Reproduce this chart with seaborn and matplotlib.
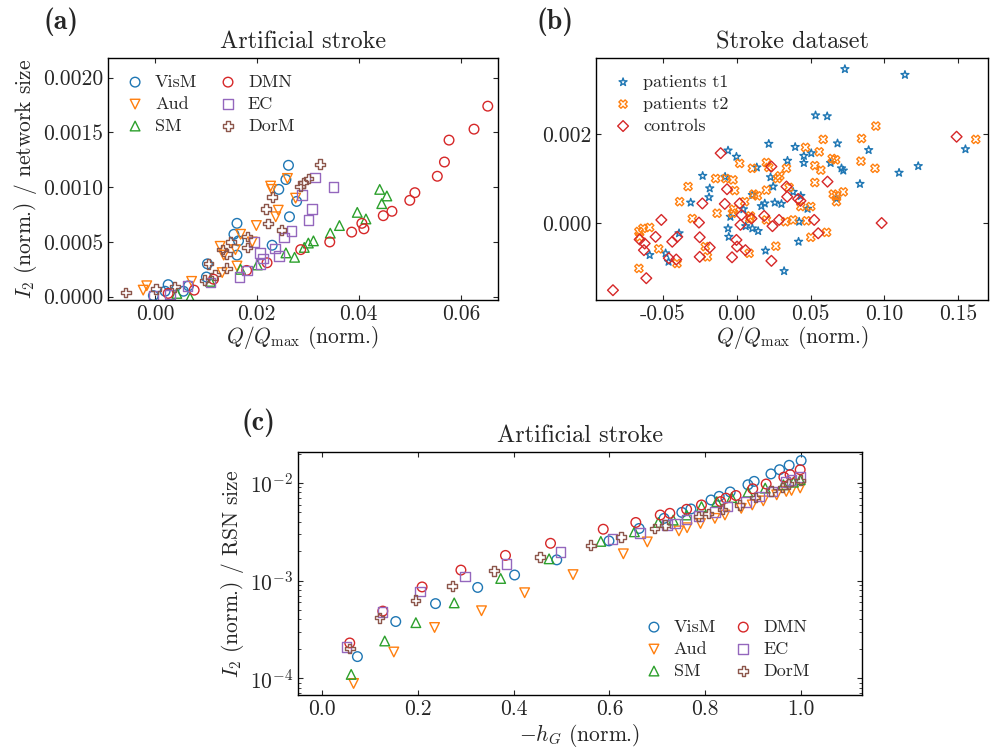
import numpy as np
import pandas as pd
import seaborn as sns
import matplotlib.pyplot as plt
from matplotlib.ticker import MultipleLocator, FormatStrFormatter

# ---- panel (a): artificial stroke, Q/Qmax vs I2 / network size ----
a_vism_x = [0.0026, 0.0020, 0.0056, 0.0066, 0.0101, 0.0103, 0.0155, 0.0161, 0.0164, 0.0161,
            0.0230, 0.0243, 0.0257, 0.0262, 0.0264, 0.0278, -0.0003]
a_vism_y = [0.00011, 0.00005, 0.00005, 0.00010, 0.00018, 0.00030, 0.00057, 0.00067, 0.00051, 0.00038,
            0.00047, 0.00098, 0.00107, 0.00120, 0.00073, 0.00087, 0.00001]
a_aud_x = [-0.0023, -0.0016, 0.0072, 0.0132, 0.0128, 0.0135, 0.0158, 0.0161, 0.0168, 0.0191,
           0.0199, 0.0227, 0.0229, 0.0237, 0.0242, 0.0260, 0.0276]
a_aud_y = [0.00006, 0.00010, 0.00014, 0.00022, 0.00046, 0.00038, 0.00043, 0.00028, 0.00057, 0.00050,
           0.00065, 0.00101, 0.00098, 0.00073, 0.00079, 0.00108, 0.00090]
a_sm_x = [0.0069, 0.0043, 0.0109, 0.0168, 0.0201, 0.0257, 0.0274, 0.0293, 0.0301, 0.0311,
          0.0344, 0.0362, 0.0397, 0.0414, 0.0441, 0.0455, 0.0445]
a_sm_y = [-0.00001, 0.00003, 0.00014, 0.00025, 0.00029, 0.00040, 0.00036, 0.00045, 0.00049, 0.00051,
          0.00058, 0.00065, 0.00077, 0.00071, 0.00098, 0.00092, 0.00085]
a_dmn_x = [0.0026, 0.0077, 0.0115, 0.0180, 0.0220, 0.0286, 0.0343, 0.0386, 0.0406, 0.0410,
           0.0448, 0.0465, 0.0500, 0.0510, 0.0554, 0.0568, 0.0577, 0.0626, 0.0653]
a_dmn_y = [0.00003, 0.00006, 0.00016, 0.00024, 0.00031, 0.00043, 0.00050, 0.00059, 0.00067, 0.00062,
           0.00074, 0.00078, 0.00088, 0.00095, 0.00110, 0.00123, 0.00143, 0.00153, 0.00174]
a_ec_x = [-0.0003, 0.0030, 0.0064, 0.0109, 0.0166, 0.0181, 0.0207, 0.0212, 0.0206, 0.0194,
          0.0235, 0.0243, 0.0253, 0.0268, 0.0301, 0.0308, 0.0289, 0.0314, 0.0350]
a_ec_y = [0.00001, 0.00002, 0.00010, 0.00013, 0.00018, 0.00024, 0.00030, 0.00035, 0.00040, 0.00050,
          0.00044, 0.00037, 0.00054, 0.00060, 0.00070, 0.00080, 0.00093, 0.00109, 0.00100]
a_dorm_x = [-0.0057, 0.0002, 0.0039, 0.0097, 0.0105, 0.0118, 0.0141, 0.0132, 0.0141, 0.0149,
            0.0181, 0.0181, 0.0222, 0.0218, 0.0230, 0.0248, 0.0285, 0.0291, 0.0301, 0.0324]
a_dorm_y = [0.00004, 0.00007, 0.00009, 0.00015, 0.00030, 0.00020, 0.00026, 0.00043, 0.00039, 0.00050,
            0.00055, 0.00045, 0.00067, 0.00080, 0.00091, 0.00061, 0.00101, 0.00104, 0.00108, 0.00121]

# ---- panel (b): stroke dataset ----
b_t1_x = [0.0733, 0.114, 0.0534, 0.0613, 0.0217, -0.0059, -0.0002, 0.0396, 0.0455, 0.0505,
          0.0455, 0.0683, 0.0636, 0.071, 0.0722, 0.0894, 0.110, 0.123, 0.0835, 0.155,
          0.0344, 0.0136, -0.0231, -0.0183, -0.0188, -0.0312, -0.0079, 0.0229, 0.0247, 0.0106,
          0.0167, 0.019, 0.0258, 0.0303, 0.0382, 0.0434, 0.0676, 0.048, 0.0423, 0.0045,
          0.0061, 0.0106, 0.0145, -0.0059, -0.0054, -0.0391, -0.0482, -0.0462, -0.059, 0.0195,
          0.0419, 0.0321, -0.0043]
b_t1_y = [0.00346, 0.00333, 0.00242, 0.00240, 0.00178, 0.00163, 0.00149, 0.00171, 0.00151, 0.00157,
          0.00135, 0.00179, 0.00135, 0.00123, 0.00118, 0.00164, 0.00113, 0.00128, 0.00088, 0.00166,
          0.00140, 0.00125, 0.00106, 0.00078, 0.00058, 0.00046, 0.00104, 0.00103, 0.00082, 0.00063,
          0.00038, 0.00044, 0.00046, 0.00043, 0.00070, 0.00061, 0.00055, 0.00032, 0.00003, 0.00031,
          -0.00007, -0.00012, -0.00018, -0.00012, -0.00031, -0.00023, -0.00068, -0.00087, -0.00072, -0.00062,
          -0.00042, -0.00108, 0.00014]
b_t2_x = [-0.0663, -0.0636, -0.059, -0.0658, -0.0663, -0.0529, -0.0405, -0.0387, -0.033, -0.0301,
          -0.0213, -0.0199, -0.0133, -0.0143, -0.0075, -0.0025, -0.0014, -0.0029, -0.002, 0.002,
          0.0106, 0.0054, 0.0093, 0.0115, 0.014, 0.0088, 0.0084, 0.0201, 0.0217, 0.0201,
          0.0201, 0.0265, 0.0276, 0.0292, 0.0337, 0.0355, 0.033, 0.0382, 0.0434, 0.0473,
          0.0466, 0.0529, 0.0529, 0.0502, 0.0502, 0.0559, 0.057, 0.0586, 0.0609, 0.0647,
          0.067, 0.0676, 0.0654, 0.0722, 0.0676, 0.0842, 0.0846, 0.0937, 0.0943, 0.162]
b_t2_y = [-0.00019, -0.00012, -0.00010, -0.00031, -0.00102, -0.00058, -0.00091, 0.00048, 0.00082, 0.00010,
          -0.00053, -0.00076, 0.00022, 0.00100, 0.00100, 0.00097, 0.00073, 0.00022, 0.00031, 0.00134,
          0.00123, 0.00048, 0.00016, 0.00065, 0.00061, 0.00010, -0.00068, 0.00136, 0.00125, 0.00074,
          0.00007, -0.00052, 0.00100, 0.00106, 0.00123, 0.00080, 0.00003, 0.00007, 0.00037, 0.00005,
          0.00170, 0.00129, 0.00091, 0.00037, -0.00032, 0.00160, 0.00119, 0.00188, -0.00021, 0.00145,
          0.00142, 0.00061, 0.00065, 0.00070, 0.00048, 0.00139, 0.00190, 0.00123, 0.00218, 0.00188]
b_ctrl_x = [-0.0839, -0.0613, -0.0658, -0.0624, -0.0629, -0.055, -0.0511, -0.046, -0.0437, -0.041,
            -0.0403, -0.0256, -0.0251, -0.0251, -0.0233, -0.0183, -0.0109, -0.0081, -0.0066, -0.0032,
            -0.0002, 0.0002, 0.002, 0.0032, 0.0025, 0.0059, 0.010, 0.0186, 0.0235, 0.0242,
            0.0235, 0.0287, 0.0337, 0.0342, 0.0416, 0.0432, 0.0525, 0.0552, 0.0615, 0.0982, 0.149]
b_ctrl_y = [-0.00151, -0.00124, -0.00037, -0.00046, -0.00061, -0.00031, 0.00007, -0.00079, -0.00042, -0.00082,
            -0.00031, 0.00001, -0.00032, -0.00076, 0.00044, -0.00055, 0.00157, 0.00043, 0.00076, -0.00077,
            -0.00038, -0.00053, 0.00044, 0.00018, -0.00004, -0.00061, 0.00010, 0.00016, -0.00085, -0.00007,
            0.00127, 0.00007, 0.00082, 0.00059, 0.00054, 0.00050, 0.00007, -0.00023, 0.00093, 0.0, 0.00194]

# ---- panel (c): -h_G vs I2 / RSN size ----
c_vism_x = [0.074, 0.154, 0.237, 0.325, 0.402, 0.490, 0.599, 0.662, 0.714, 0.751,
            0.770, 0.812, 0.829, 0.852, 0.889, 0.902, 0.937, 0.955, 0.975, 1.0]
c_vism_y = [1.66e-4, 3.8e-4, 5.8e-4, 8.5e-4, 1.14e-3, 1.63e-3, 2.55e-3, 3.42e-3, 4.34e-3, 5.0e-3,
            5.42e-3, 6.7e-3, 7.3e-3, 8.1e-3, 9.6e-3, 1.04e-2, 1.24e-2, 1.37e-2, 1.52e-2, 1.70e-2]
c_aud_x = [0.066, 0.150, 0.235, 0.333, 0.423, 0.524, 0.629, 0.679, 0.745, 0.762,
           0.790, 0.820, 0.841, 0.875, 0.898, 0.921, 0.949, 0.969, 0.980, 0.998]
c_aud_y = [8.8e-5, 1.85e-4, 3.3e-4, 4.9e-4, 7.5e-4, 1.15e-3, 1.88e-3, 2.49e-3, 3.23e-3, 3.48e-3,
           3.85e-3, 4.34e-3, 4.7e-3, 5.5e-3, 5.96e-3, 6.56e-3, 7.56e-3, 8.2e-3, 8.4e-3, 8.9e-3]
c_sm_x = [0.061, 0.131, 0.196, 0.276, 0.373, 0.474, 0.582, 0.652, 0.702, 0.733,
          0.761, 0.792, 0.824, 0.855, 0.889, 0.925, 0.963, 0.984, 0.998]
c_sm_y = [1.09e-4, 2.4e-4, 3.7e-4, 5.9e-4, 1.05e-3, 1.67e-3, 2.52e-3, 3.16e-3, 3.94e-3, 4.17e-3,
          4.7e-3, 5.73e-3, 6.45e-3, 7.1e-3, 8.07e-3, 8.87e-3, 9.6e-3, 1.02e-2, 1.08e-2]
c_dmn_x = [0.058, 0.127, 0.209, 0.290, 0.383, 0.477, 0.587, 0.655, 0.706, 0.726,
           0.761, 0.792, 0.832, 0.843, 0.864, 0.899, 0.927, 0.964, 0.977, 0.998]
c_dmn_y = [2.29e-4, 4.86e-4, 8.6e-4, 1.28e-3, 1.81e-3, 2.41e-3, 3.36e-3, 3.94e-3, 4.7e-3, 4.89e-3,
           5.38e-3, 5.96e-3, 6.45e-3, 7.0e-3, 7.45e-3, 8.73e-3, 9.77e-3, 1.15e-2, 1.22e-2, 1.37e-2]
c_ec_x = [0.051, 0.126, 0.205, 0.298, 0.385, 0.498, 0.606, 0.664, 0.720, 0.737,
          0.761, 0.786, 0.820, 0.846, 0.885, 0.913, 0.939, 0.967, 0.980, 0.998]
c_ec_y = [2.08e-4, 4.79e-4, 7.7e-4, 1.1e-3, 1.48e-3, 1.96e-3, 2.65e-3, 3.08e-3, 3.7e-3, 3.85e-3,
          4.24e-3, 4.62e-3, 5.08e-3, 5.73e-3, 6.35e-3, 7.27e-3, 8.2e-3, 1.02e-2, 1.08e-2, 1.15e-2]
c_dorm_x = [0.058, 0.120, 0.195, 0.272, 0.359, 0.455, 0.561, 0.624, 0.694, 0.716,
            0.786, 0.806, 0.836, 0.871, 0.904, 0.937, 0.961, 0.974, 0.998]
c_dorm_y = [2.01e-4, 4.15e-4, 6.3e-4, 8.8e-4, 1.26e-3, 1.74e-3, 2.3e-3, 2.8e-3, 3.42e-3, 3.7e-3,
            4.52e-3, 4.89e-3, 5.38e-3, 5.96e-3, 7.1e-3, 8.34e-3, 9.0e-3, 9.77e-3, 1.07e-2]

rsn_names = ['VisM', 'Aud', 'SM', 'DMN', 'EC', 'DorM']
rsn_markers = ['o', 'v', '^', 'o', 's', 'P']
pal = sns.color_palette('tab10')
rsn_colors = [pal[0], pal[1], pal[2], pal[3], pal[4], pal[5]]

sns.set_style('ticks')
plt.rcParams['font.family'] = 'serif'
plt.rcParams['font.serif'] = ['cmr10']
plt.rcParams['mathtext.fontset'] = 'cm'
plt.rcParams['axes.formatter.use_mathtext'] = True
plt.rcParams['axes.unicode_minus'] = True
plt.rcParams['xtick.direction'] = 'in'
plt.rcParams['ytick.direction'] = 'in'
plt.rcParams['xtick.top'] = True
plt.rcParams['ytick.right'] = True
plt.rcParams['xtick.major.size'] = 3.5
plt.rcParams['ytick.major.size'] = 3.5
plt.rcParams['ytick.minor.size'] = 2
plt.rcParams['axes.linewidth'] = 1.0
plt.rcParams['axes.edgecolor'] = 'black'
plt.rcParams['xtick.labelsize'] = 15.5
plt.rcParams['ytick.labelsize'] = 15.5
plt.rcParams['legend.handlelength'] = 1.2
plt.rcParams['legend.handletextpad'] = 0.5


def open_scatter(ax, x, y, marker, color, label, s=48):
    sns.scatterplot(x=x, y=y, ax=ax, marker=marker, s=s, facecolor='none',
                    edgecolor=color, linewidth=1.0, label=label)


fig = plt.figure(figsize=(9.9, 7.5), dpi=100)
ax_a = fig.add_axes([0.1091, 0.600, 0.3939, 0.3227])
ax_b = fig.add_axes([0.6020, 0.600, 0.3960, 0.3227])
ax_c = fig.add_axes([0.3010, 0.0733, 0.5697, 0.3240])

# (a)
a_data = [(a_vism_x, a_vism_y), (a_aud_x, a_aud_y), (a_sm_x, a_sm_y),
          (a_dmn_x, a_dmn_y), (a_ec_x, a_ec_y), (a_dorm_x, a_dorm_y)]
for (x, y), name, m, c in zip(a_data, rsn_names, rsn_markers, rsn_colors):
    open_scatter(ax_a, x, y, m, c, name)
ax_a.set_xlim(-0.0092, 0.0673)
ax_a.set_ylim(-0.00003, 0.00218)
ax_a.xaxis.set_major_locator(MultipleLocator(0.02))
ax_a.xaxis.set_major_formatter(FormatStrFormatter('%.2f'))
ax_a.yaxis.set_major_locator(MultipleLocator(0.0005))
ax_a.yaxis.set_major_formatter(FormatStrFormatter('%.4f'))
ax_a.set_xlabel(r'$Q/Q_{\max}$ (norm.)', fontsize=15.5, labelpad=0)
ax_a.set_ylabel(r'$I_2$ (norm.) / network size', fontsize=15.5, labelpad=3)
ax_a.set_title('Artificial stroke', fontsize=17.5, pad=7)
ax_a.legend(loc='upper left', ncol=2, frameon=False, fontsize=13,
            columnspacing=1.1, labelspacing=0.35)

# (b)
open_scatter(ax_b, b_t1_x, b_t1_y, '*', pal[0], 'patients t1', s=36)
open_scatter(ax_b, b_t2_x, b_t2_y, 'X', pal[1], 'patients t2', s=36)
open_scatter(ax_b, b_ctrl_x, b_ctrl_y, 'D', pal[3], 'controls', s=30)
ax_b.set_xlim(-0.0954, 0.1703)
ax_b.set_ylim(-0.00173, 0.00371)
ax_b.xaxis.set_major_locator(MultipleLocator(0.05))
ax_b.xaxis.set_major_formatter(FormatStrFormatter('%.2f'))
ax_b.yaxis.set_major_locator(MultipleLocator(0.002))
ax_b.yaxis.set_major_formatter(FormatStrFormatter('%.3f'))
ax_b.set_xlabel(r'$Q/Q_{\max}$ (norm.)', fontsize=15.5, labelpad=0)
ax_b.set_title('Stroke dataset', fontsize=17.5, pad=7)
ax_b.legend(loc='upper left', frameon=False, fontsize=13, labelspacing=0.35)

# (c)
c_data = [(c_vism_x, c_vism_y), (c_aud_x, c_aud_y), (c_sm_x, c_sm_y),
          (c_dmn_x, c_dmn_y), (c_ec_x, c_ec_y), (c_dorm_x, c_dorm_y)]
for (x, y), name, m, c in zip(c_data, rsn_names, rsn_markers, rsn_colors):
    open_scatter(ax_c, x, y, m, c, name)
ax_c.set_yscale('log')
ax_c.set_xlim(-0.05, 1.127)
ax_c.set_ylim(10 ** -4.174, 10 ** -1.682)
ax_c.xaxis.set_major_locator(MultipleLocator(0.2))
ax_c.xaxis.set_major_formatter(FormatStrFormatter('%.1f'))
ax_c.set_xlabel(r'$-h_G$ (norm.)', fontsize=15.5, labelpad=2)
ax_c.set_ylabel(r'$I_2$ (norm.) / RSN size', fontsize=15.5, labelpad=3)
ax_c.set_title('Artificial stroke', fontsize=17.5, pad=7)
ax_c.legend(loc='lower right', bbox_to_anchor=(0.936, 0.0), ncol=2, frameon=False,
            fontsize=13, columnspacing=0.9, labelspacing=0.35)

for xf, yf, lab in [(0.0616, 0.971, '(a)'), (0.5606, 0.971, '(b)'), (0.2606, 0.436, '(c)')]:
    fig.text(xf, yf, lab, fontsize=20, family='cmb10', ha='center', va='center')

fig.savefig('out.png', dpi=100)
